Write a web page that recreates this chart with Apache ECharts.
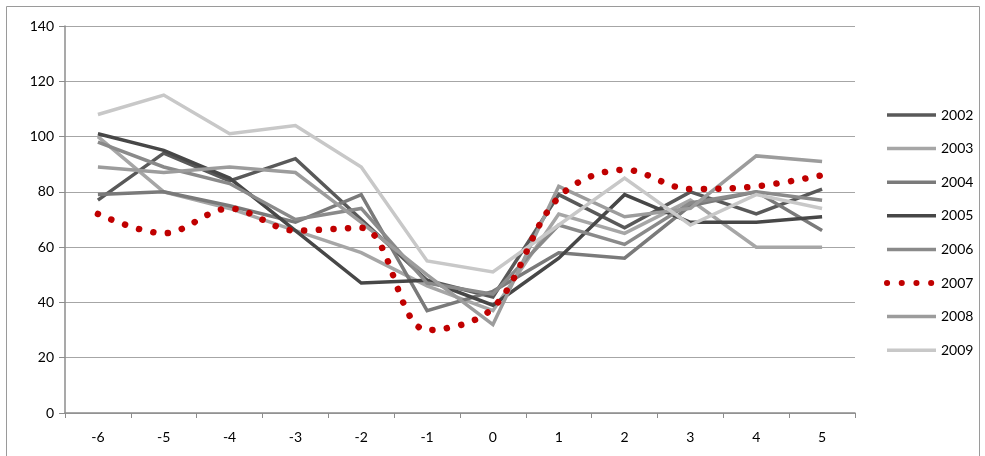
<!DOCTYPE html>
<html>
<head>
<meta charset="utf-8">
<script src="https://cdn.jsdelivr.net/npm/echarts@6/dist/echarts.min.js"></script>
<style>
html,body{margin:0;padding:0;background:#fff;}
#chart{width:985px;height:456px;}
</style>
</head>
<body>
<div id="chart"></div>
<script>
const categories = ['-6','-5','-4','-3','-2','-1','0','1','2','3','4','5'];
const yTicks = [0, 20, 40, 60, 80, 100, 120, 140];
const s2002 = [77, 94, 84, 92, 70, 48, 42, 79, 67, 80, 72, 81];
const s2003 = [100, 80, 74, 66, 58, 46, 37, 72, 65, 77, 60, 60];
const s2004 = [79, 80, 75, 69, 79, 37, 44, 58, 56, 75, 80, 66];
const s2005 = [101, 95, 85, 66, 47, 48, 39, 56, 79, 69, 69, 71];
const s2006 = [98, 89, 83, 70, 74, 47, 43, 68, 61, 76, 80, 77];
const s2007 = [72, 65, 74, 66, 67, 30, 38, 78, 88, 81, 82, 86];
const s2008 = [89, 87, 89, 87, 69, 50, 32, 82, 71, 74, 93, 91];
const s2009 = [108, 115, 101, 104, 89, 55, 51, 68, 85, 68, 79, 74];

const names = ['2002','2003','2004','2005','2006','2007','2008','2009'];
const data = [s2002, s2003, s2004, s2005, s2006, s2007, s2008, s2009];
const colors = ['#595959','#a6a6a6','#7a7a7a','#474747','#8a8a8a','#c00000','#9c9c9c','#c8c8c8'];

const redStyle = (c) => ({ color: c, width: 6.5, type: [0.1, 14.5], cap: 'round' });
const greyStyle = (c) => ({ color: c, width: 3.5, cap: 'butt', join: 'miter' });

const series = names.map((n, i) => {
  const isRed = n === '2007';
  return {
    name: n,
    type: 'line',
    data: data[i],
    symbol: 'none',
    smooth: isRed ? 0.35 : false,
    z: isRed ? 10 : 2 + i,
    lineStyle: isRed ? redStyle(colors[i]) : greyStyle(colors[i]),
    itemStyle: { color: colors[i] },
    emphasis: { disabled: true }
  };
});

const legendData = names.map((n, i) => ({
  name: n,
  itemStyle: { opacity: 0 },
  lineStyle: n === '2007'
    ? { color: colors[i], width: 6, type: [0.1, 14.6], cap: 'round' }
    : { color: colors[i], width: 3.5, type: 'solid', cap: 'butt' }
}));

const chart = echarts.init(document.getElementById('chart'), null, { renderer: 'canvas' });
chart.setOption({
  animation: false,
  backgroundColor: '#ffffff',
  textStyle: { fontFamily: 'Lato, "Noto Sans", sans-serif' },
  graphic: [{
    type: 'rect',
    shape: { x: 6.5, y: 6.5, width: 973, height: 470 },
    style: { fill: 'none', stroke: '#9a9a9a', lineWidth: 1 },
    silent: true, z: -1
  }],
  grid: { left: 65, right: 130, top: 26, bottom: 43, containLabel: false },
  legend: {
    orient: 'vertical',
    left: 879,
    top: 103,
    itemWidth: 49,
    itemHeight: 14,
    itemGap: 19.6,
    itemStyle: { opacity: 0 },
    textStyle: { fontSize: 14, color: '#000', fontFamily: 'Lato, "Noto Sans", sans-serif' },
    data: legendData
  },
  xAxis: {
    type: 'category',
    data: categories,
    boundaryGap: true,
    axisLine: { lineStyle: { color: '#8c8c8c', width: 1.5 } },
    axisTick: { show: true, length: 5, alignWithLabel: false, lineStyle: { color: '#8c8c8c' } },
    axisLabel: { fontSize: 14, color: '#000', margin: 17 },
    splitLine: { show: false }
  },
  yAxis: {
    type: 'value',
    min: yTicks[0],
    max: yTicks[yTicks.length - 1],
    interval: 20,
    axisLine: { show: true, lineStyle: { color: '#8c8c8c', width: 1.5 } },
    axisTick: { show: true, length: 6, lineStyle: { color: '#8c8c8c' } },
    axisLabel: { fontSize: 14, color: '#000', margin: 11 },
    splitLine: { lineStyle: { color: '#a6a6a6', width: 1 } }
  },
  series: series
});
</script>
</body>
</html>
